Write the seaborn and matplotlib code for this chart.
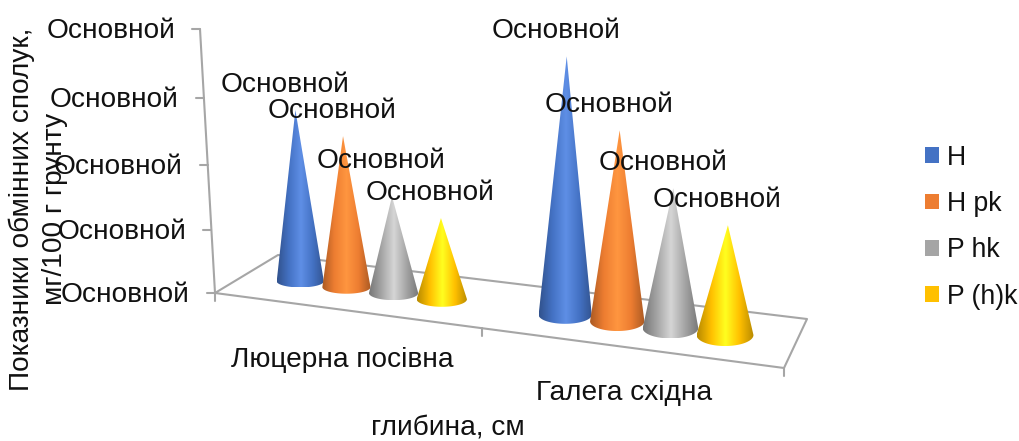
import numpy as np
import matplotlib
matplotlib.use("Agg")
import matplotlib.pyplot as plt
import seaborn as sns
from matplotlib.colors import LinearSegmentedColormap, to_rgb
from matplotlib.patches import PathPatch, Patch
from matplotlib.path import Path

# Chart data
categories = ["Люцерна посівна", "Галега східна"]
series_names = ["H", "H pk", "P hk", "P (h)k"]
lucerne_values = [2.88, 2.50, 1.59, 1.31]
galega_values = [3.80, 2.79, 2.02, 1.56]
value_ticks = [0, 1, 2, 3, 4]
value_tick_label = "Основной"
y_title = "Показники обмінних сполук,\nмг/100 г грунту"
x_title = "глибина, см"
series_colors = ["#4472c4", "#ed7d31", "#a5a5a5", "#ffc000"]
series_highlights = ["#5f8fe6", "#ff9640", "#d6d6d6", "#ffff20"]

sns.set_theme(style="white")
plt.rcParams["font.family"] = ["Liberation Sans", "DejaVu Sans"]
palette = sns.color_palette(series_colors)
TEXT = "#111111"
FRAME = "#a6a6a6"
FS = 20.2

fig = plt.figure(figsize=(10.2, 4.41), dpi=100)
ax = fig.add_axes([0, 0, 1, 1])
ax.set_xlim(0, 1020)
ax.set_ylim(441, 0)
ax.axis("off")

# Perspective mapping of the chart floor: u runs along categories, v into depth.
src = [(0, 0), (2, 0), (2, 1), (0, 1)]
dst = [(215, 293), (784, 368), (807, 319), (278, 255)]
A, b = [], []
for (u, v), (x, y) in zip(src, dst):
    A.append([u, v, 1, 0, 0, 0, -u * x, -v * x]); b.append(x)
    A.append([0, 0, 0, u, v, 1, -u * y, -v * y]); b.append(y)
H = np.append(np.linalg.solve(np.array(A, float), np.array(b, float)), 1).reshape(3, 3)


def floor(u, v):
    p = H @ np.array([u, v, 1.0])
    return p[:2] / p[2]


def rise(val):
    # Height on screen of a value, foreshortened toward the top of the axis.
    return 62.06 * val / (1 - 0.0149 * val)


def lean(x):
    # Verticals converge slightly downward in this view.
    return (x - 520) * 0.00013


# Frame of the floor and value axis
corners = [floor(*c) for c in src]
ax.plot(*zip(*(corners + corners[:1])), color=FRAME, lw=1.5, zorder=1)
origin = corners[0]
for val in value_ticks:
    yy = origin[1] - rise(val)
    xx = origin[0] + (yy - origin[1]) * (15 / 264)
    ax.plot([xx, xx - 8], [yy, yy], color=FRAME, lw=1.5, zorder=1)
    ax.text(xx - 25, yy + 2, value_tick_label, ha="right", va="center", fontsize=FS, color=TEXT, zorder=6)
top_y = origin[1] - rise(value_ticks[-1])
top = (origin[0] + (top_y - origin[1]) * (15 / 264), top_y)
ax.plot([origin[0], top[0]], [origin[1], top[1]], color=FRAME, lw=1.5, zorder=1)
for u in range(len(categories) + 1):
    p = floor(u, 0)
    ax.plot([p[0], p[0]], [p[1], p[1] + 8], color=FRAME, lw=1.5, zorder=1)


def cone(cx, cy, rx, ry, height, color, highlight, z):
    tx = cx + lean(cx) * height
    ty = cy - height
    t = np.linspace(np.pi, 0, 40)
    verts = [(tx, ty), (cx - rx, cy)] + list(zip(cx + rx * np.cos(t), cy + ry * np.sin(t))) + [(tx, ty)]
    path = Path(verts)
    base = np.array(to_rgb(color))
    cmap = LinearSegmentedColormap.from_list(
        "cone", [base * 0.72, base, highlight, base, base * 0.72])
    grad = np.linspace(0, 1, 128).reshape(1, -1)
    im = ax.imshow(grad, cmap=cmap, extent=[cx - rx, cx + rx, cy + ry, ty],
                   aspect="auto", zorder=z, interpolation="bilinear")
    clip = PathPatch(path, transform=ax.transData, fc="none", ec="none")
    ax.add_patch(clip)
    im.set_clip_path(clip)
    return tx, ty


# Cones sit near the mid-depth line of the floor, evenly spaced within each category.
slot_start, slot_step, depth = 0.221, 0.183, 0.47
label_lift = {(0, 2): 35}
all_values = [lucerne_values, galega_values]
z = 3.0
for c, vals in enumerate(all_values):
    for s, val in enumerate(vals):
        u = c + slot_start + s * slot_step
        cx, cy = floor(u, depth)
        dxdu = floor(u + 0.01, depth)[0] - floor(u - 0.01, depth)[0]
        scale = dxdu / 0.02 / 272.0
        rx = 25.7 * scale
        ry = rx * (0.26 + (cx - 300) * 0.0003)
        tx, ty = cone(cx, cy, rx, ry, rise(val) * scale, palette[s], series_highlights[s], z)
        z += 0.01
        ax.text(tx - 10.5, ty - label_lift.get((c, s), 25), value_tick_label, ha="center", va="center",
                fontsize=FS, color=TEXT, zorder=6)

ax.set_xlim(0, 1020)
ax.set_ylim(441, 0)

# Category and axis titles
ax.text(342, 360, categories[0], ha="center", va="center", fontsize=FS, color=TEXT)
ax.text(624, 393, categories[1], ha="center", va="center", fontsize=FS, color=TEXT)
ax.text(448, 428, x_title, ha="center", va="center", fontsize=FS, color=TEXT)
for line, lx, ly in zip(y_title.split("\n"), (22, 55), (209, 209)):
    ax.text(lx, ly, line, rotation=90, ha="center", va="center", fontsize=FS, color=TEXT, zorder=7)

handles = [Patch(facecolor=palette[i], edgecolor="none", label=n) for i, n in enumerate(series_names)]
ax.legend(handles=handles, loc="center left", bbox_to_anchor=(0.907, 0.485), frameon=False,
          borderpad=0, borderaxespad=0,
          fontsize=19.2, handlelength=0.525, handleheight=0.525, handletextpad=0.3,
          labelspacing=0.76, labelcolor=TEXT)

fig.savefig("out.png", dpi=100)
